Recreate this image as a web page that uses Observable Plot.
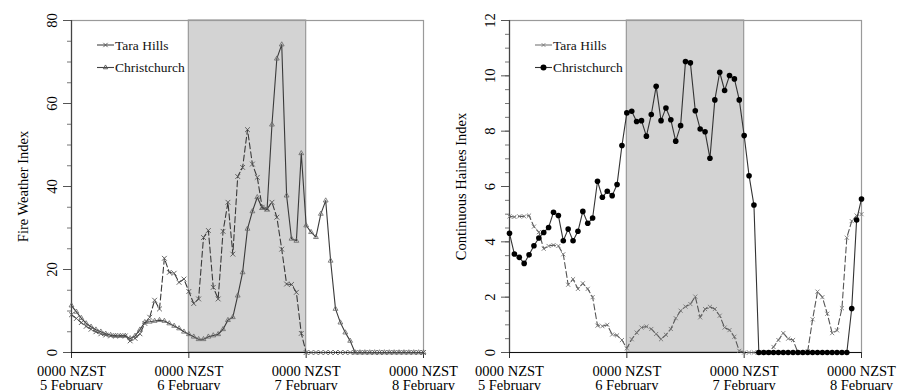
<!DOCTYPE html>
<html>
<head>
<meta charset="utf-8">
<script src="https://cdn.jsdelivr.net/npm/d3@7"></script>
<script src="https://cdn.jsdelivr.net/npm/@observablehq/plot@0.6"></script>
<style>
  html, body { margin: 0; padding: 0; background: #fff; }
  #wrap { position: relative; width: 911px; height: 390px; overflow: hidden; font-family: 'Liberation Serif', 'Times New Roman', serif; }
  #wrap > .panel { position: absolute; top: 0; }
  #legend { position: absolute; left: 0; top: 0; pointer-events: none; }
</style>
</head>
<body>
<div id="wrap"></div>
<script>
// ---------- data ----------
const hours = d3.range(0, 73); // hourly, from 0000 NZST 5 February
const dayTicks = [0, 24, 48, 72];
const dayLabels = ["5 February", "6 February", "7 February", "8 February"];
const shadedSpan = [{start: 24, end: 48}];
const seriesNames = ["Tara Hills", "Christchurch"];

const fwiTicks = [0, 20, 40, 60, 80];
const chTicks = [0, 2, 4, 6, 8, 10, 12];

// Fire Weather Index
const fwiTara = [
  9.1, 8.2, 7.2, 6.3, 5.6, 5.0, 4.5, 4.2, 4.0, 4.0,
  4.0, 4.0, 2.8, 3.4, 4.5, 7.0, 8.5, 12.6, 10.5, 22.7,
  19.3, 19.1, 16.9, 17.7, 14.7, 11.8, 12.9, 27.7, 29.4, 15.7,
  12.9, 29.2, 36.2, 23.7, 42.4, 44.6, 53.7, 45.4, 42.2, 35.0,
  34.6, 36.2, 32.6, 24.9, 16.5, 16.4, 14.5, 4.6, 0, 0,
  0, 0, 0, 0, 0, 0, 0, 0, 0, 0,
  0, 0, 0, 0, 0, 0, 0, 0, 0, 0,
  0, 0, 0
];
const fwiChch = [
  11.3, 9.8, 8.3, 7.0, 6.2, 5.5, 5.0, 4.5, 4.2, 4.0,
  4.0, 4.0, 3.4, 4.0, 5.5, 7.3, 7.4, 7.6, 7.8, 7.6,
  7.0, 6.4, 5.8, 5.0, 4.4, 3.8, 3.2, 3.2, 3.8, 4.1,
  4.4, 5.6, 7.8, 8.5, 13.7, 19.3, 29.8, 34.0, 37.4, 34.8,
  34.4, 54.9, 70.8, 74.2, 37.8, 27.4, 26.9, 48.0, 30.6, 29.0,
  27.8, 33.4, 36.6, 22.1, 10.5, 7.2, 4.8, 2.8, 0, 0,
  0, 0, 0, 0, 0, 0, 0, 0, 0, 0,
  0, 0, 0
];

// Continuous Haines Index
const chTara = [
  4.92, 4.90, 4.92, 4.92, 4.95, 4.55, 4.35, 3.75, 3.85, 3.88,
  3.85, 3.55, 2.45, 2.65, 2.30, 2.50, 2.30, 2.00, 0.97, 0.95,
  1.00, 0.65, 0.62, 0.45, 0.15, 0.48, 0.72, 0.90, 0.94, 0.85,
  0.67, 0.48, 0.64, 0.85, 1.24, 1.51, 1.66, 1.75, 2.02, 1.27,
  1.57, 1.65, 1.57, 1.33, 0.90, 0.81, 0.57, 0.06, 0, 0,
  0, 0, 0, 0, 0.2, 0.45, 0.7, 0.5, 0.45, 0,
  0, 0.05, 1.2, 2.2, 2.0, 1.4, 0.7, 0.8, 1.6, 4.15,
  4.75, 4.95, 5.0
];
const chChch = [
  4.31, 3.56, 3.44, 3.22, 3.53, 3.86, 4.14, 4.34, 4.52, 5.07,
  4.95, 4.04, 4.46, 4.04, 4.38, 5.10, 4.67, 4.86, 6.19, 5.61,
  5.83, 5.67, 6.07, 7.48, 8.66, 8.72, 8.35, 8.38, 7.82, 8.60,
  9.62, 8.38, 8.84, 8.41, 7.64, 8.20, 10.52, 10.47, 8.74, 8.08,
  7.98, 7.02, 9.13, 10.13, 9.47, 10.01, 9.89, 9.13, 7.84, 6.39,
  5.33, 0, 0, 0, 0, 0, 0, 0, 0, 0,
  0, 0, 0, 0, 0, 0, 0, 0, 0, 0,
  1.59, 4.79, 5.55
];

// ---------- helpers ----------
const rows = vals => hours.map((h, i) => ({h, v: vals[i]}));
const tickFmt = d => `0000 NZST\n${dayLabels[dayTicks.indexOf(d)]}`;
const FONT = "'Liberation Serif', 'Times New Roman', serif";

function panel({width, marginLeft, marginRight, yMax, yTicks, yMinor, label, marks}) {
  return Plot.plot({
    width, height: 390,
    marginLeft, marginRight, marginTop: 20, marginBottom: 38,
    style: {fontFamily: FONT, fontSize: "14.5px", color: "#000", background: "transparent", overflow: "visible"},
    x: {domain: [0, 72]},
    y: {domain: [0, yMax]},
    marks: [
      Plot.rect(shadedSpan, {x1: "start", x2: "end", fill: "#d3d3d3", stroke: "#9a9a9a", strokeWidth: 1.2}),
      Plot.frame({stroke: "#9a9a9a", strokeWidth: 1.2}),
      Plot.axisX({ticks: dayTicks, tickFormat: tickFmt, tickSize: 6, tickPadding: 7, label: null, lineHeight: 1.0, stroke: "#333"}),
      Plot.axisY({ticks: yMinor, tickSize: 4, tickFormat: () => "", label: null, stroke: "#777"}),
      Plot.axisY({ticks: yTicks, tickSize: 8, tickPadding: 7, tickRotate: -90, label, labelAnchor: "center", labelArrow: "none", labelOffset: 54, stroke: "#555"}),
      Plot.ruleX([0], {stroke: "#444", strokeWidth: 1.2}),
      Plot.ruleY([0], {stroke: "#111", strokeWidth: 1.2}),
      ...marks
    ]
  });
}

// ---------- left panel ----------
const left = panel({
  width: 440, marginLeft: 71, marginRight: 17,
  yMax: 80, yTicks: fwiTicks, yMinor: d3.range(0, 81, 5),
  label: "Fire Weather Index",
  marks: [
    Plot.lineY(rows(fwiTara), {x: "h", y: "v", stroke: "#3a3a3a", strokeWidth: 1.1, strokeDasharray: "6,3"}),
    Plot.dot(rows(fwiTara), {x: "h", y: "v", symbol: "times", r: 2.3, stroke: "#555", strokeWidth: 0.9}),
    Plot.lineY(rows(fwiChch), {x: "h", y: "v", stroke: "#3a3a3a", strokeWidth: 1.1}),
    Plot.dot(rows(fwiChch), {x: "h", y: "v", symbol: "triangle2", r: 2.3, stroke: "#666", strokeWidth: 0.8, fill: "none"})
  ]
});
left.classList.add("panel");
left.style.left = "0px";

// ---------- right panel ----------
const right = panel({
  width: 471, marginLeft: 69, marginRight: 50,
  yMax: 12, yTicks: chTicks, yMinor: d3.range(0, 12.01, 0.5),
  label: "Continuous Haines Index",
  marks: [
    Plot.lineY(rows(chTara), {x: "h", y: "v", stroke: "#555", strokeWidth: 1.1, strokeDasharray: "6,3"}),
    Plot.dot(rows(chTara), {x: "h", y: "v", symbol: "times", r: 2, stroke: "#777", strokeWidth: 0.9}),
    Plot.lineY(rows(chChch), {x: "h", y: "v", stroke: "#333", strokeWidth: 1.1}),
    Plot.dot(rows(chChch), {x: "h", y: "v", r: 2.8, fill: "#000"})
  ]
});
right.classList.add("panel");
right.style.left = "440px";

const wrap = document.getElementById("wrap");
wrap.appendChild(left);
wrap.appendChild(right);

// ---------- legends (inside each panel, top-left) ----------
const leg = d3.select(wrap).append("svg").attr("id", "legend").attr("width", 911).attr("height", 390);
const legendSpecs = [
  {x0: 97, items: [
    {name: seriesNames[0], stroke: "#444", sym: d3.symbolTimes, size: 14, symFill: "none", symStroke: "#555"},
    {name: seriesNames[1], stroke: "#444", sym: d3.symbolTriangle2, size: 14, symFill: "none", symStroke: "#555"}
  ]},
  {x0: 535, items: [
    {name: seriesNames[0], stroke: "#777", sym: d3.symbolTimes, size: 10, symFill: "none", symStroke: "#777"},
    {name: seriesNames[1], stroke: "#333", sym: d3.symbolCircle, size: 28, symFill: "#000", symStroke: "none"}
  ]}
];
for (const spec of legendSpecs) {
  spec.items.forEach((it, i) => {
    const y = 45 + i * 22.5;
    const g = leg.append("g");
    g.append("line").attr("x1", spec.x0).attr("x2", spec.x0 + 17).attr("y1", y).attr("y2", y)
      .attr("stroke", it.stroke).attr("stroke-width", 1.1);
    g.append("path").attr("d", d3.symbol(it.sym, it.size)())
      .attr("transform", `translate(${spec.x0 + 8.5},${y})`)
      .attr("fill", it.symFill).attr("stroke", it.symStroke).attr("stroke-width", 0.9);
    g.append("text").attr("x", spec.x0 + 18).attr("y", y).attr("dy", "0.35em")
      .attr("font-family", FONT).attr("font-size", "13.5px").attr("fill", "#111")
      .text(it.name);
  });
}
</script>
</body>
</html>
